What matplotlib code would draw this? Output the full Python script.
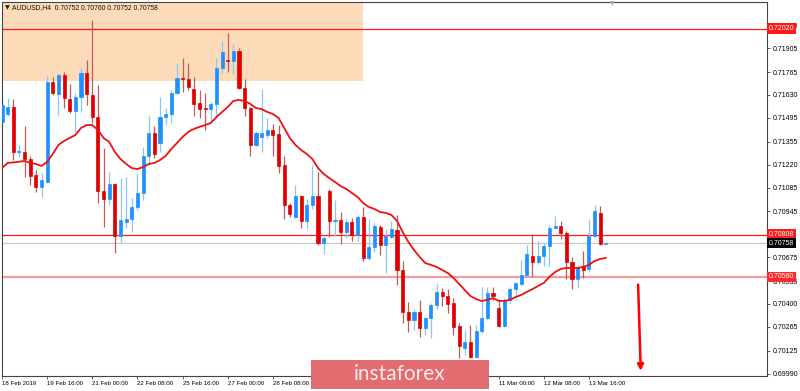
import matplotlib
matplotlib.use("Agg")
import matplotlib.pyplot as plt
import matplotlib.transforms as mtransforms
from matplotlib.patches import Rectangle

# AUDUSD H4 candles, 18 Feb - 14 Mar 2019
opens = [
    0.71471, 0.71518, 0.71559, 0.71295, 0.71295, 0.71253, 0.71159, 0.71089, 0.71118, 0.71706,
    0.71636, 0.71748, 0.71606, 0.71536, 0.71618, 0.71759, 0.71630, 0.71500, 0.71065, 0.71018,
    0.71106, 0.70800, 0.70883, 0.70900, 0.70971, 0.71053, 0.71271, 0.71406, 0.71347, 0.71500,
    0.71518, 0.71642, 0.71730, 0.71724, 0.71665, 0.71583, 0.71553, 0.71547, 0.71577, 0.71789,
    0.71836, 0.71830, 0.71889, 0.71671, 0.71553, 0.71336, 0.71383, 0.71394, 0.71424, 0.71400,
    0.71218, 0.70983, 0.70912, 0.71035, 0.70888, 0.70983, 0.71035, 0.70759, 0.71065, 0.70888,
    0.70894, 0.70824, 0.70883, 0.70806, 0.70912, 0.70671, 0.70735, 0.70853, 0.70747, 0.70794,
    0.70835, 0.70600, 0.70353, 0.70306, 0.70353, 0.70259, 0.70318, 0.70394, 0.70471, 0.70447,
    0.70406, 0.70270, 0.70141, 0.70176, 0.70088, 0.70241, 0.70318, 0.70465, 0.70376, 0.70270,
    0.70424, 0.70488, 0.70518, 0.70571, 0.70682, 0.70647, 0.70682, 0.70741, 0.70847, 0.70859,
    0.70818, 0.70647, 0.70547, 0.70624, 0.70606, 0.70800, 0.70936, 0.70752]
highs = [
    0.71601, 0.71612, 0.71606, 0.71336, 0.71447, 0.71271, 0.71189, 0.71171, 0.71742, 0.71736,
    0.71759, 0.71765, 0.71695, 0.71642, 0.71795, 0.71836, 0.72071, 0.71689, 0.71318, 0.71177,
    0.71112, 0.71141, 0.71147, 0.71024, 0.71171, 0.71324, 0.71506, 0.71447, 0.71618, 0.71553,
    0.71659, 0.71818, 0.71848, 0.71818, 0.71736, 0.71659, 0.71642, 0.71589, 0.71848, 0.71948,
    0.71995, 0.71930, 0.71907, 0.71724, 0.71559, 0.71418, 0.71665, 0.71495, 0.71459, 0.71453,
    0.71271, 0.70994, 0.71100, 0.71041, 0.71018, 0.71218, 0.71177, 0.70806, 0.71077, 0.71012,
    0.70941, 0.70900, 0.70906, 0.70924, 0.70971, 0.70900, 0.70877, 0.70865, 0.70841, 0.70888,
    0.70924, 0.70653, 0.70412, 0.70371, 0.70424, 0.70323, 0.70406, 0.70518, 0.70494, 0.70488,
    0.70435, 0.70288, 0.70247, 0.70276, 0.70276, 0.70500, 0.70500, 0.70500, 0.70429, 0.70435,
    0.70500, 0.70529, 0.70659, 0.70747, 0.70812, 0.70771, 0.70759, 0.70865, 0.70918, 0.70888,
    0.70830, 0.70677, 0.70630, 0.70712, 0.70900, 0.70983, 0.70977, 0.70760]
lows = [
    0.71424, 0.71506, 0.71247, 0.71265, 0.71147, 0.71100, 0.71059, 0.71030, 0.71112, 0.71630,
    0.71506, 0.71553, 0.71524, 0.71412, 0.71530, 0.71571, 0.71465, 0.70994, 0.70853, 0.70983,
    0.70700, 0.70759, 0.70847, 0.70824, 0.70953, 0.71012, 0.71218, 0.71259, 0.71295, 0.71453,
    0.71465, 0.71636, 0.71648, 0.71659, 0.71506, 0.71495, 0.71424, 0.71471, 0.71495, 0.71759,
    0.71765, 0.71753, 0.71665, 0.71506, 0.71271, 0.71330, 0.71295, 0.71377, 0.71271, 0.71171,
    0.70900, 0.70912, 0.70906, 0.70847, 0.70841, 0.70959, 0.70747, 0.70694, 0.70794, 0.70800,
    0.70753, 0.70788, 0.70771, 0.70771, 0.70653, 0.70659, 0.70706, 0.70688, 0.70582, 0.70788,
    0.70512, 0.70288, 0.70235, 0.70247, 0.70206, 0.70218, 0.70200, 0.70371, 0.70388, 0.70347,
    0.70218, 0.70082, 0.70100, 0.70082, 0.70082, 0.70229, 0.70306, 0.70424, 0.70265, 0.70265,
    0.70406, 0.70424, 0.70512, 0.70559, 0.70559, 0.70635, 0.70624, 0.70624, 0.70841, 0.70783,
    0.70547, 0.70488, 0.70494, 0.70553, 0.70588, 0.70794, 0.70747, 0.70752]
closes = [
    0.71571, 0.71559, 0.71295, 0.71300, 0.71253, 0.71153, 0.71089, 0.71130, 0.71706, 0.71642,
    0.71748, 0.71612, 0.71536, 0.71618, 0.71759, 0.71636, 0.71500, 0.71065, 0.71018, 0.71106,
    0.70800, 0.70894, 0.70900, 0.70971, 0.71053, 0.71271, 0.71406, 0.71283, 0.71500, 0.71518,
    0.71642, 0.71730, 0.71724, 0.71677, 0.71577, 0.71547, 0.71547, 0.71577, 0.71789, 0.71883,
    0.71830, 0.71889, 0.71671, 0.71553, 0.71336, 0.71406, 0.71406, 0.71424, 0.71394, 0.71212,
    0.70983, 0.70930, 0.71035, 0.70888, 0.70983, 0.71035, 0.70759, 0.70788, 0.70888, 0.70894,
    0.70824, 0.70883, 0.70806, 0.70912, 0.70671, 0.70735, 0.70859, 0.70747, 0.70800, 0.70841,
    0.70600, 0.70353, 0.70306, 0.70353, 0.70259, 0.70318, 0.70394, 0.70471, 0.70447, 0.70400,
    0.70265, 0.70153, 0.70176, 0.70088, 0.70241, 0.70318, 0.70465, 0.70447, 0.70270, 0.70424,
    0.70488, 0.70524, 0.70571, 0.70694, 0.70647, 0.70682, 0.70741, 0.70847, 0.70859, 0.70818,
    0.70647, 0.70547, 0.70618, 0.70600, 0.70800, 0.70947, 0.70753, 0.70758]
# moving average (red line), read per bar
ma = [
    0.71200, 0.71230, 0.71233, 0.71237, 0.71242, 0.71230, 0.71224, 0.71212, 0.71236, 0.71283,
    0.71336, 0.71359, 0.71377, 0.71394, 0.71436, 0.71453, 0.71453, 0.71424, 0.71377, 0.71353,
    0.71295, 0.71253, 0.71224, 0.71200, 0.71194, 0.71206, 0.71224, 0.71230, 0.71247, 0.71271,
    0.71312, 0.71347, 0.71383, 0.71412, 0.71430, 0.71442, 0.71453, 0.71465, 0.71500, 0.71530,
    0.71559, 0.71595, 0.71601, 0.71595, 0.71577, 0.71553, 0.71547, 0.71530, 0.71518, 0.71495,
    0.71436, 0.71377, 0.71336, 0.71306, 0.71283, 0.71253, 0.71200, 0.71165, 0.71141, 0.71118,
    0.71094, 0.71077, 0.71053, 0.71030, 0.70994, 0.70971, 0.70959, 0.70941, 0.70936, 0.70924,
    0.70888, 0.70824, 0.70765, 0.70718, 0.70677, 0.70641, 0.70630, 0.70618, 0.70600, 0.70582,
    0.70553, 0.70518, 0.70482, 0.70447, 0.70429, 0.70418, 0.70424, 0.70435, 0.70418, 0.70418,
    0.70424, 0.70441, 0.70453, 0.70471, 0.70488, 0.70506, 0.70524, 0.70559, 0.70588, 0.70606,
    0.70612, 0.70612, 0.70612, 0.70618, 0.70630, 0.70653, 0.70665, 0.70671]

# time labels; the ones between 28 Feb and 11 Mar are covered by the watermark
time_ticks = [0, 8, 16, 24, 32, 40, 48, 56, 64, 72, 80, 88, 96, 104]
time_labels = ["18 Feb 2019", "19 Feb 16:00", "21 Feb 00:00", "22 Feb 08:00",
               "25 Feb 16:00", "27 Feb 00:00", "28 Feb 08:00", "", "", "", "",
               "11 Mar 00:00", "12 Mar 08:00", "13 Mar 16:00"]
price_ticks = [0.69990, 0.70125, 0.70265, 0.70400, 0.70535, 0.70675, 0.70810, 0.70945,
               0.71085, 0.71220, 0.71355, 0.71495, 0.71630, 0.71765, 0.71905, 0.72040]

resistance = 0.72020
level_hi = 0.70808
level_lo = 0.70560
last_price = 0.70758
zone_low, zone_end = 0.71713, 63.9        # shaded supply zone
arrow_x0, arrow_x1 = 112.7, 113.2
arrow_from, arrow_to = 0.70530, 0.69990

BULL, BEAR = "#1e90ff", "#e00000"
BULL_WICK, BEAR_WICK = "#8ac6f7", "#c45a5a"
SMALL = ["Liberation Sans Narrow", "Liberation Sans"]

fig = plt.figure(figsize=(8, 3.91), dpi=100, facecolor="white")
ax = fig.add_axes([2 / 800, 15.3 / 391, 764.7 / 800, 373.7 / 391])
ax.set_xlim(0.15, 135.5)
ax.set_ylim(0.69978, 0.72177)

ax.fill_between([ax.get_xlim()[0], zone_end], zone_low, 0.7225,
                color="#fddbb9", lw=0, zorder=0)

ax.axhline(resistance, color="#ff1a1a", lw=0.9, zorder=1)
ax.axhline(level_hi, color="#ff1a1a", lw=0.9, zorder=1)
ax.axhline(last_price, color="#c8c8c8", lw=0.9, zorder=1)
ax.axhline(level_lo, color="#f79c9c", lw=1.6, zorder=1)

idx = list(range(len(opens)))
up = [c >= o for o, c in zip(opens, closes)]
wick_cols = [BULL_WICK if u else BEAR_WICK for u in up]
body_cols = [BULL if u else BEAR for u in up]
ax.vlines(idx, lows, highs, colors=wick_cols, lw=0.9, zorder=2)
ax.bar(idx, [abs(c - o) for o, c in zip(opens, closes)], width=0.55,
       bottom=[min(o, c) for o, c in zip(opens, closes)],
       color=body_cols, edgecolor=body_cols, lw=0.5, zorder=3)

ax.plot(idx, ma, color="#ee1111", lw=1.3, zorder=4)

ax.annotate("", xy=(arrow_x1, arrow_to), xytext=(arrow_x0, arrow_from),
            arrowprops=dict(arrowstyle="-|>", color="#ff0000", lw=1.8,
                            mutation_scale=9), zorder=5, annotation_clip=False)

# axes styling, MT4-like
for s in ax.spines.values():
    s.set_color("#444444")
    s.set_linewidth(0.8)
ax.yaxis.tick_right()
ax.set_yticks(price_ticks)
# 0.70810 sits under the 0.70808 level box in the original
ax.set_yticklabels(["" if abs(p - level_hi) < 0.0001 else f"{p:.5f}" for p in price_ticks])
ax.set_xticks(time_ticks)
ax.set_xticklabels(time_labels)
ax.tick_params(axis="both", direction="out", length=2.5, width=0.6,
               color="#444444", pad=1.5)
for lab in ax.get_xticklabels():
    lab.set_ha("left")
    lab.set_fontfamily(SMALL)
    lab.set_fontsize(4.4)
for lab in ax.get_yticklabels():
    lab.set_fontfamily(SMALL)
    lab.set_fontsize(5.0)

# price labels on the right axis
trans = mtransforms.blended_transform_factory(ax.transAxes, ax.transData)
for val, bg in [(resistance, "#ff1a1a"), (level_hi, "#ff1a1a"),
                (last_price, "#000000"), (level_lo, "#ff2a2a")]:
    ax.text(1.003, val, f"{val:.5f}", transform=trans, ha="left", va="center",
            fontsize=5.0, color="white", zorder=10, clip_on=False, family=SMALL,
            bbox=dict(boxstyle="square,pad=0.25", fc=bg, ec="none"))

fig.text(5 / 800, 1 - 7.5 / 391, "\u25bc", fontsize=4.5, color="#222222",
         va="center", ha="left")
fig.text(12 / 800, 1 - 7.5 / 391, "AUDUSD,H4  0.70752 0.70760 0.70752 0.70758",
         fontsize=4.9, color="#111111", va="center", ha="left", family=SMALL)
fig.text(612 / 800, 1 - 3.5 / 391, "\u25bc", fontsize=4.5, color="#aaaaaa",
         va="center", ha="center")

# watermark
fig.patches.append(Rectangle((311 / 800, 2 / 391), 178 / 800, 29 / 391,
                             transform=fig.transFigure, facecolor="#e26c70",
                             edgecolor="none", zorder=20))
fig.text(400 / 800, 16.5 / 391, "instaforex", fontsize=15, color="#fbecec",
         ha="center", va="center", family=["Lato", "DejaVu Sans"], zorder=21)

fig.savefig("out.png", dpi=100, facecolor="white")
